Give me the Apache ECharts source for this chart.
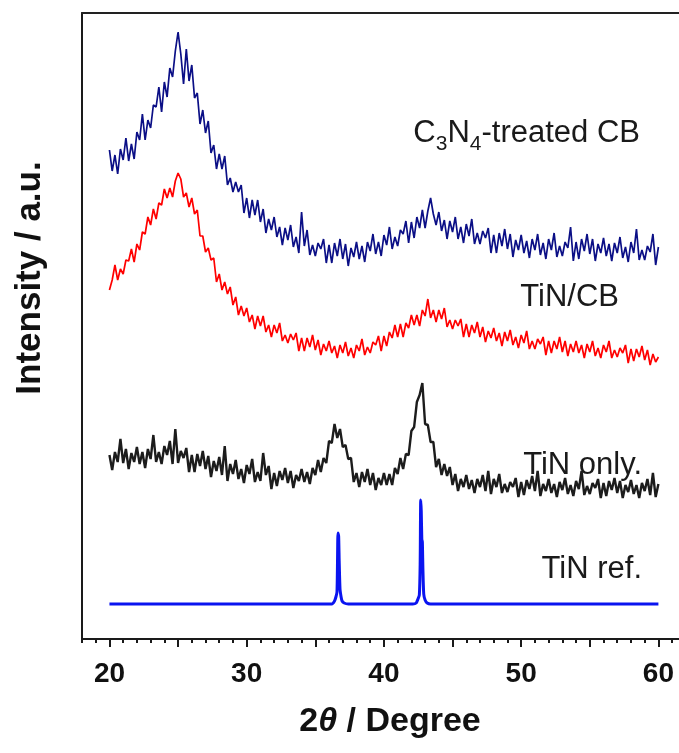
<!DOCTYPE html>
<html>
<head>
<meta charset="utf-8">
<script src="https://cdn.jsdelivr.net/npm/echarts@6/dist/echarts.min.js"></script>
<style>
html,body{margin:0;padding:0;background:#fff;}
#chart{width:679px;height:753px;}
</style>
</head>
<body>
<div id="chart"></div>
<script>
// ---- data (intensity in arbitrary units, traces offset as in the figure) ----
const scanStart = 20;     // first 2θ of the scans
const scanStep = 0.2;     // 2θ step of the scans

// C3N4-treated CB  (one row per degree, 20 ... 59, last value at 60)
const c3n4CB = [
489,468,484,465,490,
479,501,478,495,480,
507,499,525,499,519,
511,534,532,552,527,
557,542,571,562,588,
607,585,555,590,558,
574,541,546,515,529,
506,518,486,494,470,
485,470,483,454,461,
447,457,447,454,426,
441,421,439,424,439,
417,430,406,420,409,
422,402,412,394,411,
399,414,392,402,386,
427,393,409,384,394,
383,396,390,400,376,
394,376,396,383,400,
380,395,373,391,382,
397,380,393,377,397,
388,405,385,397,383,
404,394,412,390,402,
393,409,405,418,396,
417,401,422,411,429,
411,428,441,425,414,
427,408,419,400,418,
407,422,400,412,396,
415,403,420,395,406,
395,408,401,411,386,
404,386,406,393,410,
390,405,382,399,389,
404,386,398,381,400,
389,405,384,396,380,
400,389,406,382,393,
383,397,391,412,378,
397,380,400,388,405,
385,400,378,395,386,
401,383,395,378,396,
386,402,381,392,377,
397,386,410,379,389,
379,393,387,405,374,
392
];

// TiN/CB
const tinCB = [
349,359,374,359,370,
365,379,378,390,377,
395,389,407,405,422,
414,430,420,436,434,
450,441,451,442,458,
466,460,442,446,432,
441,425,429,403,403,
387,391,379,381,357,
365,349,357,345,352,
334,342,324,333,323,
331,317,324,310,323,
313,323,307,314,302,
314,306,316,298,304,
296,305,299,306,288,
301,288,301,292,304,
289,299,284,295,288,
298,286,293,281,294,
286,297,283,291,281,
294,288,300,284,292,
286,297,294,303,288,
303,293,307,301,314,
302,315,302,316,311,
324,314,324,313,329,
323,340,321,329,317,
329,320,331,312,319,
310,319,313,320,302,
315,302,314,306,317,
302,312,297,308,301,
311,298,306,293,307,
298,309,294,302,291,
304,296,308,290,298,
290,300,295,302,284,
298,286,298,290,302,
287,298,283,295,287,
298,286,294,281,295,
287,298,283,291,281,
294,287,298,281,289,
282,291,286,294,276,
290,278,290,282,293,
279,289,274,285,277,
282
];

// TiN only.
const tinOnly = [
184,169,187,177,200,
176,190,170,186,177,
192,175,187,171,190,
180,204,177,187,175,
193,184,198,175,210,
176,188,181,191,167,
184,167,185,173,188,
170,183,162,178,168,
182,164,193,158,175,
165,179,160,170,156,
174,165,180,157,167,
158,186,164,173,150,
166,153,168,159,171,
156,168,151,164,158,
170,157,167,155,171,
164,179,167,181,176,
198,196,215,201,210,
192,194,180,181,157,
166,152,167,157,170,
154,166,149,161,154,
166,154,165,154,171,
165,181,170,185,184,
208,212,237,244,256,
215,214,197,197,172,
180,164,175,163,172,
154,165,148,160,152,
164,150,159,146,160,
152,164,148,168,145,
160,152,165,146,155,
147,157,152,161,142,
157,144,159,150,163,
148,168,143,155,148,
160,146,155,142,157,
149,161,145,154,143,
158,150,168,144,153,
145,156,151,160,141,
156,143,158,149,161,
146,158,141,154,147,
159,145,154,141,156,
148,160,144,166,142,
155
];

// TiN reference pattern (smooth), explicit 2θ / intensity pairs
const refTheta = [20,36.2,36.4,36.5,36.58,36.62,36.65,36.7,36.74,36.8,36.88,36.95,37.1,37.4,
                  42.1,42.35,42.48,42.58,42.64,42.68,42.72,42.76,42.8,42.84,42.9,43.0,43.15,43.4,60];
const refInt   = [35,35,38,42,47,80,106,103,78,50,42,38,36,35,
                  35,36,40,44,75,139,128,100,97,70,45,39,36,35,35];

// axis ticks / labels
const labelTicks = [20,30,40,50,60];
const majorTicks = [20,25,30,35,40,45,50,55,60];
const minorTicks = [18,19,21,22,23,24,26,27,28,29,31,32,33,34,36,37,38,39,41,42,43,44,46,47,48,49,51,52,53,54,56,57,58,59,61];

const seriesNames = ['C3N4-treated CB','TiN/CB','TiN only.','TiN ref.'];

// ---- build ----
function scanPairs(arr){
  return arr.map((v,i)=>[+(scanStart + i*scanStep).toFixed(2), v]);
}
const refPairs = refTheta.map((t,i)=>[t, refInt[i]]);

const FONT = "'Liberation Sans', Arial, Helvetica, sans-serif";
const chart = echarts.init(document.getElementById('chart'), null, {renderer:'canvas'});

const baseAxis = {type:'value', min:18, max:61.5, gridIndex:0, splitLine:{show:false}};

chart.setOption({
  animation:false,
  backgroundColor:'#fff',
  grid:{left:82, right:0, top:13, bottom:114, containLabel:false},
  xAxis:[
    Object.assign({}, baseAxis, {
      position:'bottom',
      axisLine:{show:true, onZero:false, lineStyle:{color:'#1a1a1a', width:2}},
      axisTick:{show:true, customValues:majorTicks, length:8, inside:false, lineStyle:{color:'#1a1a1a', width:2}},
      axisLabel:{show:true, customValues:labelTicks, margin:21, color:'#111',
                 fontFamily:FONT, fontWeight:'bold', fontSize:28}
    }),
    Object.assign({}, baseAxis, {
      position:'bottom',
      axisLine:{show:false, onZero:false},
      axisTick:{show:true, customValues:minorTicks, length:4, inside:false, lineStyle:{color:'#1a1a1a', width:2}},
      axisLabel:{show:false}
    }),
    Object.assign({}, baseAxis, {
      position:'top',
      axisLine:{show:true, onZero:false, lineStyle:{color:'#222', width:2}},
      axisTick:{show:false},
      axisLabel:{show:false}
    })
  ],
  yAxis:{
    type:'value', min:0, max:626,
    axisLine:{show:true, onZero:false, lineStyle:{color:'#1a1a1a', width:2}},
    axisTick:{show:false}, axisLabel:{show:false}, splitLine:{show:false}
  },
  series:[
    {name:seriesNames[0], type:'line', xAxisIndex:0, data:scanPairs(c3n4CB), showSymbol:false,
     lineStyle:{color:'#0b0f86', width:1.7}, itemStyle:{color:'#0b0f86'}},
    {name:seriesNames[1], type:'line', xAxisIndex:0, data:scanPairs(tinCB), showSymbol:false,
     lineStyle:{color:'#ff0000', width:1.7}, itemStyle:{color:'#ff0000'}},
    {name:seriesNames[2], type:'line', xAxisIndex:0, data:scanPairs(tinOnly), showSymbol:false,
     lineStyle:{color:'#1c1c1c', width:2.4}, itemStyle:{color:'#1c1c1c'}},
    {name:seriesNames[3], type:'line', xAxisIndex:0, data:refPairs, showSymbol:false, smooth:0.2,
     lineStyle:{color:'#0a14f0', width:3}, itemStyle:{color:'#0a14f0'}}
  ],
  graphic:[
    {type:'text', x:640, y:133, style:{
      text:'{m|C}{s|3}{m|N}{s|4}{m|-treated CB}',
      align:'right', verticalAlign:'middle',
      rich:{
        m:{fontFamily:FONT, fontSize:31, fill:'#1a1a1a', verticalAlign:'bottom'},
        s:{fontFamily:FONT, fontSize:21, fill:'#1a1a1a', verticalAlign:'bottom', padding:[0,0,-6,0]}
      }}},
    {type:'text', x:619, y:297, style:{text:seriesNames[1], align:'right', verticalAlign:'middle',
      fontFamily:FONT, fontSize:31, fill:'#1a1a1a'}},
    {type:'text', x:642, y:465, style:{text:seriesNames[2], align:'right', verticalAlign:'middle',
      fontFamily:FONT, fontSize:31, fill:'#1a1a1a'}},
    {type:'text', x:642, y:569, style:{text:seriesNames[3], align:'right', verticalAlign:'middle',
      fontFamily:FONT, fontSize:31, fill:'#1a1a1a'}},
    {type:'text', x:30, y:278, rotation:Math.PI/2, style:{text:'Intensity / a.u.', align:'center', verticalAlign:'middle',
      fontFamily:FONT, fontSize:35, fontWeight:'bold', fill:'#111'}},
    {type:'text', x:390, y:722, style:{
      text:'{b|2}{i|θ}{b| / Degree}', align:'center', verticalAlign:'middle',
      rich:{
        b:{fontFamily:FONT, fontSize:34, fontWeight:'bold', fill:'#111'},
        i:{fontFamily:FONT, fontSize:34, fontStyle:'italic', fontWeight:'bold', fill:'#111'}
      }}}
  ]
});
</script>
</body>
</html>
